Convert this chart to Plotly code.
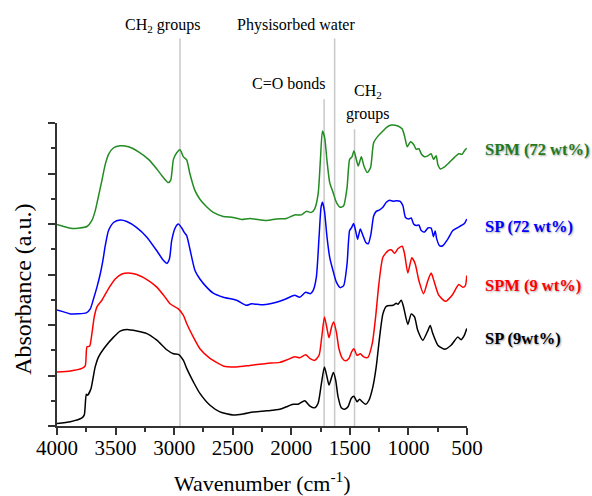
import plotly.graph_objects as go

# ---------------- data (wavenumber cm-1, offset absorbance a.u.) ----------------
sp9_wn = [4000, 3886, 3787, 3767, 3750, 3739, 3710, 3693, 3674, 3645, 3588, 3517, 3461, 3404, 3319,
          3233, 3148, 3063, 3006, 2964, 2921, 2893, 2836, 2780, 2694, 2609, 2496, 2411, 2325, 2212,
          2098, 2042, 1985, 1942, 1885, 1843, 1800, 1771, 1743, 1717, 1695, 1678, 1655, 1641, 1621,
          1601, 1573, 1544, 1516, 1488, 1465, 1439, 1417, 1394, 1365, 1337, 1303, 1275, 1246, 1218,
          1189, 1132, 1104, 1090, 1061, 1042, 1005, 976, 948, 920, 877, 834, 814, 792, 749, 692, 636,
          579, 550, 522, 502]
sp9_abs = [0.05, 0.085, 0.16, 0.22, 0.63, 0.61, 0.74, 0.94, 1.17, 1.37, 1.57, 1.76, 1.88, 1.91, 1.88,
           1.83, 1.70, 1.51, 1.43, 1.42, 1.30, 1.14, 0.875, 0.645, 0.41, 0.28, 0.217, 0.237, 0.276, 0.30,
           0.33, 0.38, 0.43, 0.43, 0.50, 0.40, 0.36, 0.45, 0.84, 1.17, 0.97, 0.81, 0.97, 1.06, 0.91,
           0.58, 0.36, 0.33, 0.38, 0.55, 0.59, 0.48, 0.53, 0.48, 0.43, 0.51, 0.78, 1.17, 1.76, 2.22,
           2.37, 2.39, 2.43, 2.41, 2.49, 2.36, 2.01, 2.22, 2.16, 1.89, 1.70, 1.89, 1.99, 1.83, 1.60, 1.52, 1.60,
           1.76, 1.71, 1.80, 1.93]

spm9_wn = [4000, 3886, 3787, 3759, 3744, 3722, 3702, 3682, 3659, 3617, 3560, 3503, 3446, 3390, 3319,
           3219, 3148, 3077, 3035, 2964, 2921, 2893, 2836, 2780, 2694, 2581, 2467, 2354, 2212, 2098,
           2027, 1971, 1928, 1877, 1843, 1800, 1763, 1740, 1717, 1695, 1678, 1655, 1638, 1615, 1593,
           1564, 1536, 1507, 1485, 1465, 1439, 1411, 1382, 1346, 1309, 1280, 1252, 1218, 1175, 1147,
           1118, 1090, 1053, 1033, 1005, 971, 942, 911, 871, 834, 806, 783, 741, 684, 627, 570, 536,
           514, 502]
spm9_abs = [1.07, 1.09, 1.14, 1.19, 1.57, 1.58, 1.83, 2.16, 2.36, 2.49, 2.72, 2.91, 3.01, 3.03, 3.00,
            2.88, 2.75, 2.55, 2.42, 2.32, 2.19, 2.03, 1.76, 1.53, 1.34, 1.19, 1.17, 1.20, 1.24, 1.26,
            1.32, 1.37, 1.35, 1.41, 1.34, 1.30, 1.40, 1.76, 2.16, 1.93, 1.75, 1.97, 2.06, 1.86, 1.53,
            1.34, 1.29, 1.34, 1.47, 1.53, 1.40, 1.43, 1.37, 1.36, 1.63, 2.16, 2.82, 3.34, 3.47, 3.49,
            3.42, 3.51, 3.56, 3.41, 3.03, 3.33, 3.21, 2.88, 2.62, 2.88, 3.03, 2.88, 2.59, 2.47, 2.59, 2.80, 2.75,
            2.78, 2.98]

sp72_wn = [4000, 3943, 3886, 3750, 3716, 3688, 3659, 3631, 3608, 3588, 3560, 3517, 3461, 3404, 3319,
           3233, 3148, 3092, 3063, 3040, 3021, 2992, 2964, 2935, 2915, 2893, 2865, 2822, 2780, 2723,
           2666, 2581, 2467, 2382, 2340, 2240, 2127, 2042, 1971, 1928, 1877, 1837, 1814, 1786, 1763,
           1746, 1734, 1717, 1695, 1672, 1644, 1615, 1581, 1553, 1524, 1502, 1485, 1468, 1451, 1434,
           1411, 1388, 1365, 1343, 1320, 1297, 1275, 1246, 1218, 1189, 1161, 1132, 1104, 1070, 1047,
           1025, 996, 976, 956, 934, 911, 891, 863, 834, 806, 786, 772, 758, 735, 707, 664, 621, 579,
           550, 522, 502]
sp72_abs = [2.30, 2.26, 2.22, 2.24, 2.32, 2.52, 2.75, 3.01, 3.28, 3.57, 3.87, 4.03, 4.08, 4.05, 3.93,
            3.74, 3.47, 3.28, 3.22, 3.31, 3.67, 3.92, 4.00, 3.92, 3.84, 3.77, 3.50, 3.08, 2.91, 2.75,
            2.63, 2.55, 2.49, 2.39, 2.42, 2.40, 2.45, 2.52, 2.59, 2.55, 2.65, 2.62, 2.68, 2.95, 3.74,
            4.33, 4.43, 4.26, 3.74, 3.34, 3.08, 2.85, 2.74, 2.78, 3.21, 3.87, 3.93, 4.01, 3.87, 3.70,
            3.90, 3.77, 3.64, 3.61, 3.80, 4.16, 4.25, 4.28, 4.33, 4.43, 4.47, 4.45, 4.46, 4.45, 4.36,
            4.13, 4.10, 4.12, 4.00, 3.97, 3.98, 3.87, 3.84, 3.92, 3.92, 3.75, 3.86, 3.70, 3.57, 3.57, 3.70, 3.87, 3.93,
            3.97, 4.01, 4.10]

spm72_wn = [4000, 3943, 3872, 3744, 3702, 3674, 3645, 3617, 3588, 3560, 3517, 3461, 3390, 3304, 3219,
            3148, 3092, 3049, 3029, 3006, 2978, 2950, 2921, 2893, 2865, 2822, 2780, 2723, 2666, 2581,
            2496, 2425, 2354, 2212, 2127, 2042, 1971, 1914, 1871, 1829, 1800, 1771, 1752, 1734, 1715,
            1695, 1672, 1644, 1615, 1581, 1553, 1524, 1502, 1482, 1465, 1445, 1428, 1402, 1380, 1351,
            1323, 1297, 1260, 1218, 1189, 1147, 1090, 1053, 1033, 1010, 982, 954, 934, 911, 888, 863,
            834, 806, 786, 763, 749, 726, 692, 650, 607, 570, 542, 519, 502]
spm72_abs = [3.99, 3.95, 3.91, 3.95, 4.07, 4.26, 4.56, 4.86, 5.18, 5.38, 5.51, 5.55, 5.53, 5.43, 5.28,
             5.09, 4.92, 4.82, 4.87, 5.28, 5.41, 5.47, 5.33, 5.27, 4.99, 4.66, 4.49, 4.34, 4.23, 4.15,
             4.13, 4.09, 4.11, 4.07, 4.10, 4.11, 4.18, 4.18, 4.25, 4.23, 4.30, 4.59, 5.25, 5.84, 5.71,
             5.25, 4.82, 4.63, 4.43, 4.33, 4.36, 4.72, 5.28, 5.33, 5.45, 5.28, 5.15, 5.33, 5.15, 5.02,
             5.12, 5.61, 5.74, 5.84, 5.91, 5.96, 5.94, 5.88, 5.74, 5.53, 5.63, 5.57, 5.48, 5.49, 5.38, 5.33,
             5.35, 5.39, 5.28, 5.35, 5.18, 5.09, 5.13, 5.22, 5.32, 5.39, 5.38, 5.46, 5.50]

series_names = ["SP (9wt%)", "SPM (9 wt%)", "SP (72 wt%)", "SPM (72 wt%)"]
series_x = [sp9_wn, spm9_wn, sp72_wn, spm72_wn]
series_y = [sp9_abs, spm9_abs, sp72_abs, spm72_abs]
series_colors = ["#000000", "#ff0000", "#0000ff", "#228b22"]
label_colors = ["#000000", "#ff0000", "#0000ff", "#1f7a1f"]
label_levels = [1.74, 2.78, 3.95, 5.48]

# band markers: wavenumber and line top (paper units)
band_wn = [2950, 1720, 1630, 1460]
band_top = [1.279, 1.078, 1.279, 0.979]

x_ticks = [4000, 3500, 3000, 2500, 2000, 1500, 1000, 500]

SERIF = "Liberation Serif, Times New Roman, serif"

fig = go.Figure()
for name, xs, ys, col in zip(series_names, series_x, series_y, series_colors):
    fig.add_trace(go.Scatter(x=xs, y=ys, mode="lines", name=name,
                             line=dict(color=col, width=1.5, shape="spline", smoothing=0.6),
                             showlegend=False))

shapes = []
for wn, top in zip(band_wn, band_top):
    shapes.append(dict(type="line", xref="x", yref="paper", x0=wn, x1=wn, y0=0, y1=top,
                       line=dict(color="#c8c8c8", width=1.5), layer="below"))

annotations = []
for name, lvl, col in zip(series_names, label_levels, label_colors):
    annotations.append(dict(text="<b>%s</b>" % name, xref="paper", yref="y", x=1.040, y=lvl,
                            xanchor="left", yanchor="middle", showarrow=False,
                            font=dict(family=SERIF, size=16.5, color=col,
                                      shadow="1px 1px 2px rgba(0,0,0,0.35)")))

top_font = dict(family=SERIF, size=16, color="#000000")
annotations += [
    dict(text="CH<sub>2</sub> groups", xref="x", yref="paper", x=3103, y=1.322,
         xanchor="center", yanchor="middle", showarrow=False, font=top_font),
    dict(text="Physisorbed water", xref="x", yref="paper", x=1962, y=1.322,
         xanchor="center", yanchor="middle", showarrow=False, font=top_font),
    dict(text="C=O bonds", xref="x", yref="paper", x=2026, y=1.129,
         xanchor="center", yanchor="middle", showarrow=False, font=top_font),
    dict(text="CH<sub>2</sub>", xref="x", yref="paper", x=1348, y=1.105,
         xanchor="center", yanchor="middle", showarrow=False, font=top_font),
    dict(text="groups", xref="x", yref="paper", x=1348, y=1.029,
         xanchor="center", yanchor="middle", showarrow=False, font=top_font),
    dict(text="Absorbance (a.u.)", xref="paper", yref="paper", x=-0.085, y=0.45,
         xanchor="center", yanchor="middle", textangle=-90, showarrow=False,
         font=dict(family=SERIF, size=24, color="#000000")),
    dict(text="Wavenumber (cm<sup>-1</sup>)", xref="paper", yref="paper", x=0.502, y=-0.184,
         xanchor="center", yanchor="middle", showarrow=False,
         font=dict(family=SERIF, size=22, color="#000000")),
]

fig.update_layout(
    width=592, height=496,
    margin=dict(l=57, r=124.6, t=122.7, b=70.0, pad=0),
    paper_bgcolor="white", plot_bgcolor="white",
    shapes=shapes, annotations=annotations,
    xaxis=dict(range=[4000, 500], tickmode="array", tickvals=x_ticks,
               ticktext=[str(v) for v in x_ticks],
               ticks="outside", ticklen=7, tickwidth=1.5, tickcolor="#333333",
               ticklabelstandoff=-5,
               showline=True, linecolor="#333333", linewidth=2, showgrid=False, zeroline=False,
               tickfont=dict(family=SERIF, size=21, color="#000000"),
               minor=dict(ticks="outside", ticklen=4, tickwidth=1.5, tickcolor="#333333",
                          tickmode="linear", tick0=250, dtick=250, showgrid=False)),
    yaxis=dict(range=[0, 6], tickmode="linear", tick0=0, dtick=1, showticklabels=False,
               ticks="outside", ticklen=7, tickwidth=1.5, tickcolor="#333333",
               showline=True, linecolor="#333333", linewidth=2, showgrid=False, zeroline=False,
               minor=dict(ticks="outside", ticklen=4, tickwidth=1.5, tickcolor="#333333",
                          tick0=0, dtick=0.5, showgrid=False)),
)

fig.write_html("out.html", config={"displayModeBar": False})

# remove the default page margin so the figure sits at the window's top-left corner
with open("out.html", "r", encoding="utf-8") as f:
    html = f.read()
html = html.replace("<head>", "<head><style>html,body{margin:0;padding:0;overflow:hidden;}</style>", 1)
with open("out.html", "w", encoding="utf-8") as f:
    f.write(html)
